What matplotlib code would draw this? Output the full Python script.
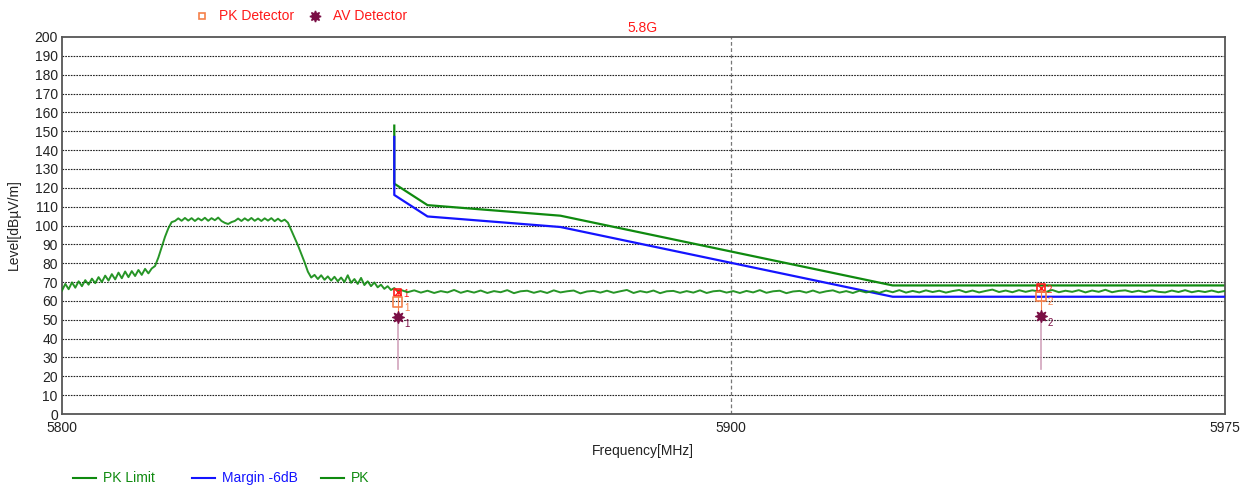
import numpy as np
import matplotlib.pyplot as plt
from matplotlib.lines import Line2D

plt.rcParams['font.family'] = ['Liberation Sans', 'DejaVu Sans']

# PK limit line (dBuV/m)
limit_freq = [5850, 5850, 5855, 5875, 5925, 5975]
limit_level = [153.0, 122.2, 110.8, 105.2, 68.2, 68.2]
margin_db = 6
margin_level = [v - margin_db for v in limit_level]

# PK trace, 0.5 MHz steps 5800-5851
pk_freq_a = np.arange(5800, 5851.5, 0.5)
pk_level_a = [
    65.5, 69.0, 66.2, 69.8, 67.0, 70.4, 67.8, 71.0, 68.6, 71.8,
    69.4, 72.6, 70.0, 73.4, 70.8, 74.2, 71.4, 75.0, 72.0, 75.6,
    72.6, 75.8, 73.2, 76.4, 73.8, 77.0, 74.6, 77.2, 78.5, 83.0,
    88.5, 94.0, 98.5, 101.8, 102.4, 103.8, 102.5, 104.0, 102.6, 103.9,
    102.4, 103.8, 102.7, 104.1, 102.5, 103.9, 102.8, 104.2, 102.4, 101.4,
    100.8, 101.8, 102.4, 103.7, 102.4, 103.8, 102.6, 104.0, 102.5, 103.7,
    102.4, 103.8, 102.6, 103.9, 102.3, 103.6, 102.2, 103.1, 101.5, 97.5,
    93.5, 89.5, 85.0, 80.5, 75.5, 72.4, 73.8, 71.6, 73.6, 71.2,
    73.0, 70.8, 72.8, 70.4, 72.4, 70.0, 73.6, 69.6, 71.6, 69.0,
    72.2, 68.4, 70.4, 67.8, 69.8, 67.2, 68.6, 66.4, 67.8, 65.8,
    66.8, 65.2, 65.8,
]
# PK trace, 1 MHz steps 5852-5975
pk_freq_b = np.arange(5852, 5976, 1.0)
pk_level_b = [
    64.6, 65.6, 64.4, 65.4, 64.2, 65.2, 64.5, 65.8, 64.3, 65.3,
    64.4, 65.5, 64.2, 65.2, 64.6, 65.7, 64.1, 65.1, 65.4, 64.3,
    65.2, 64.2, 65.6, 64.5, 65.1, 65.5, 64.0, 65.0, 65.3, 64.4,
    65.4, 64.3, 65.1, 65.8, 64.2, 65.2, 64.5, 65.5, 64.1, 65.1,
    65.3, 64.3, 65.2, 64.4, 65.6, 64.2, 65.1, 65.4, 64.4, 65.2,
    64.2, 65.3, 64.5, 65.7, 64.3, 65.1, 65.4, 64.1, 65.0, 65.3,
    64.4, 65.5, 64.3, 65.1, 65.6, 64.4, 65.2, 64.2, 65.4, 64.5,
    65.2, 64.3, 65.5, 64.6, 65.7, 64.4, 65.3, 64.5, 65.6, 64.7,
    65.4, 64.4, 65.2, 65.8, 64.6, 65.5, 64.5, 65.3, 66.0, 64.7,
    65.5, 64.6, 65.7, 64.8, 65.6, 65.0, 64.7, 65.8, 64.6, 65.4,
    64.8, 65.7, 64.5, 65.5, 64.8, 65.9, 64.6, 65.3, 65.6, 64.7,
    65.4, 64.6, 65.6, 64.8, 64.5, 65.5, 64.7, 65.7, 64.6, 65.3,
    64.7, 65.5, 64.6, 65.3,
]
pk_freq = np.concatenate([pk_freq_a, pk_freq_b])
pk_level = np.array(pk_level_a + pk_level_b)

# final measurement markers
marker_ids = ['1', '2']
marker_freq = [5850.5, 5947.3]
marker_peak = [64.5, 66.7]
pk_detector = [59.4, 62.2]
av_detector = [51.3, 51.8]
stem_bottom = 24.0

GREEN = '#0f8a0f'
BLUE = '#1414ff'
RED = '#ff1a1a'
ORANGE = '#f5804a'
PURPLE = '#7a0f45'
STEM = '#d2a4bc'

fig = plt.figure(figsize=(12.49, 4.91), dpi=100)
ax = fig.add_axes([62 / 1249, 1 - 414 / 491, 1163 / 1249, 377 / 491])

# the receiver's 5900 division sits a few pixels right of the exact value
center_div = 5900.7

# grid
for y in range(10, 200, 10):
    ax.axhline(y, color='#222222', lw=0.8, ls=(0, (1.5, 1.0)), zorder=0)
ax.axvline(center_div, color='#777777', lw=0.9, ls=(0, (3, 2)), zorder=0)

ax.plot(limit_freq, limit_level, color=GREEN, lw=1.6, zorder=2)
ax.plot(limit_freq, margin_level, color=BLUE, lw=1.6, zorder=3)
ax.plot(pk_freq, pk_level, color=GREEN, lw=1.4, alpha=0.9, zorder=4)

# detector markers
for i, f in enumerate(marker_freq):
    ax.plot([f, f], [stem_bottom, av_detector[i]], color=STEM, lw=1.2, zorder=5)
    ax.plot([f, f], [av_detector[i], marker_peak[i]], color=ORANGE, lw=0.8, zorder=5)
ax.scatter(marker_freq, marker_peak, marker='s', s=30, facecolors='none',
           edgecolors=RED, linewidths=1.2, zorder=7)
ax.scatter(marker_freq, marker_peak, marker='x', s=22, color=RED, linewidths=1.0, zorder=7)
ax.scatter(marker_freq, pk_detector, marker='s', s=45, facecolors='none',
           edgecolors=ORANGE, linewidths=1.2, zorder=7)
ax.scatter(marker_freq, av_detector, marker=(8, 1, 0), s=70, color=PURPLE, zorder=7)
for i, f in enumerate(marker_freq):
    ax.annotate(marker_ids[i], (f, marker_peak[i]), xytext=(4, -1),
                textcoords='offset points', color=RED, fontsize=7, va='center')
    ax.annotate(marker_ids[i], (f, pk_detector[i]), xytext=(5, -4),
                textcoords='offset points', color=ORANGE, fontsize=7, va='center')
    ax.annotate(marker_ids[i], (f, av_detector[i]), xytext=(5, -5),
                textcoords='offset points', color=PURPLE, fontsize=7, va='center')

ax.set_xlim(5800, 5975)
ax.set_ylim(0, 200)
ax.set_yticks(range(0, 201, 10))
ax.set_xticks([5800, center_div, 5975])
ax.set_xticklabels(['5800', '5900', '5975'])
ax.tick_params(length=0, labelsize=10, colors='#222222', pad=3)
ax.tick_params(axis='x', pad=5)
for s in ax.spines.values():
    s.set_color('#555555')
    s.set_linewidth(1.3)

fig.text(14 / 1249, 1 - 225 / 491, 'Level[dBµV/m]', rotation=90, ha='center',
         va='center', fontsize=10, color='#222222')
fig.text(643 / 1249, 1 - 451 / 491, 'Frequency[MHz]', ha='center', va='center',
         fontsize=10, color='#222222')
fig.text(643 / 1249, 1 - 28 / 491, '5.8G', ha='center', va='center',
         fontsize=10, color=RED)

# top legend
fig.add_artist(Line2D([202 / 1249], [1 - 16 / 491], marker='s', ms=5, mfc='none',
                      mec=ORANGE, mew=1.2, ls='none'))
fig.text(219 / 1249, 1 - 16 / 491, 'PK Detector', va='center', fontsize=10, color=RED)
fig.add_artist(Line2D([315 / 1249], [1 - 16 / 491], marker=(8, 1, 0), ms=8,
                      color=PURPLE, ls='none'))
fig.text(333 / 1249, 1 - 16 / 491, 'AV Detector', va='center', fontsize=10, color=RED)

# bottom legend
bottom_items = [('PK Limit', GREEN, 73), ('Margin -6dB', BLUE, 192), ('PK', GREEN, 321)]
for label, col, x0 in bottom_items:
    yl = 1 - 478 / 491
    fig.add_artist(Line2D([x0 / 1249, (x0 + 23) / 1249], [yl, yl], color=col, lw=1.5))
    fig.text((x0 + 30) / 1249, yl, label, va='center', fontsize=10, color=col)

fig.savefig('out.png', dpi=100)
